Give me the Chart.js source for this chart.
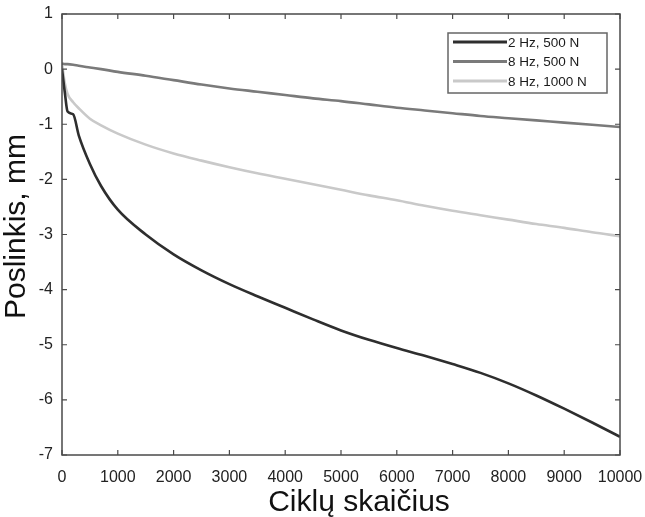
<!DOCTYPE html>
<html>
<head>
<meta charset="utf-8">
<title>Poslinkis</title>
<script src="https://cdn.jsdelivr.net/npm/chart.js@4/dist/chart.umd.min.js"></script>
<style>
  html, body { margin: 0; padding: 0; background: #fff; }
  #wrap { width: 645px; height: 517px; }
</style>
</head>
<body>
<div id="wrap"><canvas id="poslinkis"></canvas></div>
<script>
// cycle counts and measured displacement (mm) for each test
const cycles = [0, 50, 100, 200, 300, 500, 700, 1000, 1500, 2000, 2500, 3000, 3500, 4000, 4500, 5000,
    5500, 6000, 6500, 7000, 7500, 8000, 8500, 9000, 9500, 10000];
const hz2n500 = [0, -0.42, -0.77, -0.82, -1.2, -1.72, -2.12, -2.55, -3.0, -3.36, -3.65, -3.9, -4.12, -4.33, -4.54, -4.74,
    -4.91, -5.06, -5.2, -5.35, -5.51, -5.7, -5.92, -6.16, -6.41, -6.67];
const hz8n500 = [0.1, 0.09, 0.09, 0.08, 0.06, 0.03, 0.0, -0.05, -0.12, -0.2, -0.28, -0.35, -0.41, -0.47, -0.53, -0.58,
    -0.64, -0.7, -0.75, -0.8, -0.85, -0.89, -0.93, -0.97, -1.01, -1.05];
const hz8n1000 = [0.1, -0.25, -0.45, -0.6, -0.71, -0.9, -1.02, -1.17, -1.37, -1.53, -1.66, -1.78, -1.89, -1.99, -2.09, -2.19,
    -2.29, -2.38, -2.48, -2.57, -2.65, -2.73, -2.81, -2.88, -2.96, -3.03];
const seriesLabels = ['2 Hz, 500 N', '8 Hz, 500 N', '8 Hz, 1000 N'];
const seriesColors = ['#2e2e2e', '#7a7a7a', '#c9c9c9'];
const xTicks = [0, 1000, 2000, 3000, 4000, 5000, 6000, 7000, 8000, 9000, 10000];
const yTicks = [1, 0, -1, -2, -3, -4, -5, -6, -7];
const xTitle = 'Ciklų skaičius';
const yTitle = 'Poslinkis, mm';

const FONT = '"Liberation Sans", Arial, sans-serif';
const toPoints = vals => vals.map((v, i) => ({ x: cycles[i], y: v }));

// box around the axes with inward ticks, axis titles and the boxed legend
const axesBox = {
    id: 'axesBox',
    afterDraw(chart) {
        const { ctx, chartArea: a, scales } = chart;
        ctx.save();
        ctx.strokeStyle = '#4a4a4a';
        ctx.lineWidth = 1.5;
        ctx.strokeRect(a.left, a.top, a.right - a.left, a.bottom - a.top);

        ctx.lineWidth = 1.2;
        ctx.beginPath();
        const len = 5;
        xTicks.forEach(t => {
            const px = scales.x.getPixelForValue(t);
            ctx.moveTo(px, a.bottom); ctx.lineTo(px, a.bottom - len);
            ctx.moveTo(px, a.top); ctx.lineTo(px, a.top + len);
        });
        yTicks.forEach(t => {
            const py = scales.y.getPixelForValue(t);
            ctx.moveTo(a.left, py); ctx.lineTo(a.left + len, py);
            ctx.moveTo(a.right, py); ctx.lineTo(a.right - len, py);
        });
        ctx.stroke();

        // axis titles
        ctx.fillStyle = '#111';
        ctx.font = '30px ' + FONT;
        ctx.textAlign = 'center';
        ctx.textBaseline = 'middle';
        ctx.fillText(xTitle, (a.left + a.right) / 2 + 18, a.bottom + 48);
        ctx.save();
        ctx.translate(17, (a.top + a.bottom) / 2 - 8);
        ctx.rotate(-Math.PI / 2);
        ctx.fillText(yTitle, 0, 0);
        ctx.restore();

        // legend
        const w = 159, h = 60;
        const lx = a.right - 13 - w, ly = a.top + 19;
        ctx.fillStyle = '#fff';
        ctx.fillRect(lx, ly, w, h);
        ctx.strokeStyle = '#666';
        ctx.lineWidth = 1.5;
        ctx.strokeRect(lx, ly, w, h);
        ctx.font = '13.5px ' + FONT;
        ctx.textAlign = 'left';
        ctx.textBaseline = 'middle';
        chart.data.datasets.forEach((ds, i) => {
            const ry = ly + 9 + i * 19.5;
            ctx.strokeStyle = ds.borderColor;
            ctx.lineWidth = 3;
            ctx.beginPath();
            ctx.moveTo(lx + 5, ry);
            ctx.lineTo(lx + 59, ry);
            ctx.stroke();
            ctx.fillStyle = '#1a1a1a';
            ctx.fillText(ds.label, lx + 60, ry + 1);
        });
        ctx.restore();
    }
};

const ctx = document.getElementById('poslinkis').getContext('2d');
const chart = new Chart(ctx, {
    type: 'line',
    data: {
        datasets: [
            { label: seriesLabels[0], data: toPoints(hz2n500), borderColor: seriesColors[0] },
            { label: seriesLabels[1], data: toPoints(hz8n500), borderColor: seriesColors[1] },
            { label: seriesLabels[2], data: toPoints(hz8n1000), borderColor: seriesColors[2] }
        ]
    },
    options: {
        responsive: true,
        maintainAspectRatio: false,
        animation: false,
        layout: { padding: { top: 14, right: 25, left: 0, bottom: 0 } },
        elements: {
            line: { borderWidth: 2.6, cubicInterpolationMode: 'monotone' },
            point: { radius: 0 }
        },
        plugins: {
            legend: { display: false },
            tooltip: { enabled: false }
        },
        scales: {
            x: {
                type: 'linear',
                min: 0,
                max: 10000,
                afterFit(scale) {
                    scale.height = 62;
                    scale.paddingLeft = 0;
                    scale.paddingRight = 0;
                },
                grid: { display: false, drawTicks: false },
                border: { display: false },
                ticks: {
                    stepSize: 1000,
                    padding: 13,
                    maxRotation: 0,
                    color: '#222',
                    font: { family: FONT, size: 16 },
                    callback: v => String(v)
                }
            },
            y: {
                min: -7,
                max: 1,
                afterFit(scale) {
                    scale.width = 62;
                    scale.paddingTop = 0;
                    scale.paddingBottom = 0;
                },
                grid: { display: false, drawTicks: false },
                border: { display: false },
                ticks: {
                    stepSize: 1,
                    padding: 9,
                    color: '#222',
                    font: { family: FONT, size: 16 }
                }
            }
        }
    },
    plugins: [axesBox]
});
</script>
</body>
</html>
